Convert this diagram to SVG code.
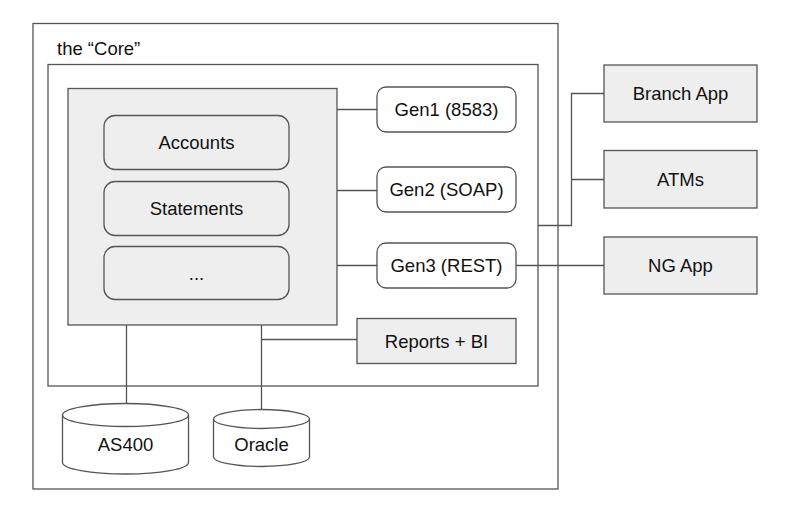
<svg xmlns="http://www.w3.org/2000/svg" width="800" height="516" viewBox="0 0 800 516">
<style>
.box{fill:#fff;stroke:#555;stroke-width:1.3}
.g{fill:#eeeeee;stroke:#555;stroke-width:1.3}
.c{fill:none;stroke:#555;stroke-width:1.3}
text{font-family:"Liberation Sans",Arial,sans-serif;font-size:18.5px;fill:#111;text-anchor:middle;dominant-baseline:central}
</style>
<rect width="800" height="516" fill="#fff"/>
<g id="core">
<rect class="box" x="33" y="23.5" width="525" height="465.5"/>
<text x="57" y="48" style="text-anchor:start">the “Core”</text>
</g>
<g id="inner"><rect class="box" x="48" y="64.5" width="490" height="321.5"/></g>
<g id="connectors">
<line class="c" x1="337" y1="109.5" x2="377" y2="109.5"/>
<line class="c" x1="337" y1="190.5" x2="377" y2="190.5"/>
<line class="c" x1="337" y1="265.5" x2="604" y2="265.5"/>
<line class="c" x1="261.5" y1="339.5" x2="357" y2="339.5"/>
<line class="c" x1="126.5" y1="325" x2="126.5" y2="404"/>
<line class="c" x1="261.5" y1="325" x2="261.5" y2="410"/>
<polyline class="c" points="538,225.5 571.5,225.5 571.5,93.5 604,93.5"/>
<line class="c" x1="571.5" y1="179.5" x2="604" y2="179.5"/>
</g>
<g id="engine"><rect class="g" x="68" y="88.5" width="269" height="236.5"/></g>
<g id="accounts"><rect class="g" x="104" y="115.5" width="185" height="54" rx="11"/><text x="196.5" y="142.5">Accounts</text></g>
<g id="statements"><rect class="g" x="104" y="181.5" width="185" height="54" rx="11"/><text x="196.5" y="208.5">Statements</text></g>
<g id="more"><rect class="g" x="104" y="246.5" width="185" height="53" rx="11"/><text x="196.5" y="273">...</text></g>
<g id="gen1"><rect class="box" x="377" y="87" width="139" height="45" rx="9"/><text x="446.5" y="109.5">Gen1 (8583)</text></g>
<g id="gen2"><rect class="box" x="377" y="167" width="139" height="45" rx="9"/><text x="446.5" y="189.5">Gen2 (SOAP)</text></g>
<g id="gen3"><rect class="box" x="377" y="243" width="139" height="45" rx="9"/><text x="446.5" y="265.5">Gen3 (REST)</text></g>
<g id="reports"><rect class="g" x="357" y="318.5" width="159" height="45"/><text x="436.5" y="341">Reports + BI</text></g>
<g id="branch"><rect class="g" x="604" y="65" width="153" height="57"/><text x="680.5" y="93.5">Branch App</text></g>
<g id="atms"><rect class="g" x="604" y="150.5" width="153" height="57.5"/><text x="680.5" y="179.5">ATMs</text></g>
<g id="ngapp"><rect class="g" x="604" y="237" width="153" height="57"/><text x="680.5" y="265.5">NG App</text></g>
<g id="as400">
<path class="box" d="M62.5,415 A63,11.5 0 0 1 188.5,415 V462.5 A63,11.5 0 0 1 62.5,462.5 Z"/>
<path class="c" d="M62.5,415 A63,11.5 0 0 0 188.5,415"/>
<text x="125.5" y="444">AS400</text>
</g>
<g id="oracle">
<path class="box" d="M213.5,419 A48,9.5 0 0 1 309.5,419 V457 A48,9.5 0 0 1 213.5,457 Z"/>
<path class="c" d="M213.5,419 A48,9.5 0 0 0 309.5,419"/>
<text x="261.5" y="444">Oracle</text>
</g>
</svg>
